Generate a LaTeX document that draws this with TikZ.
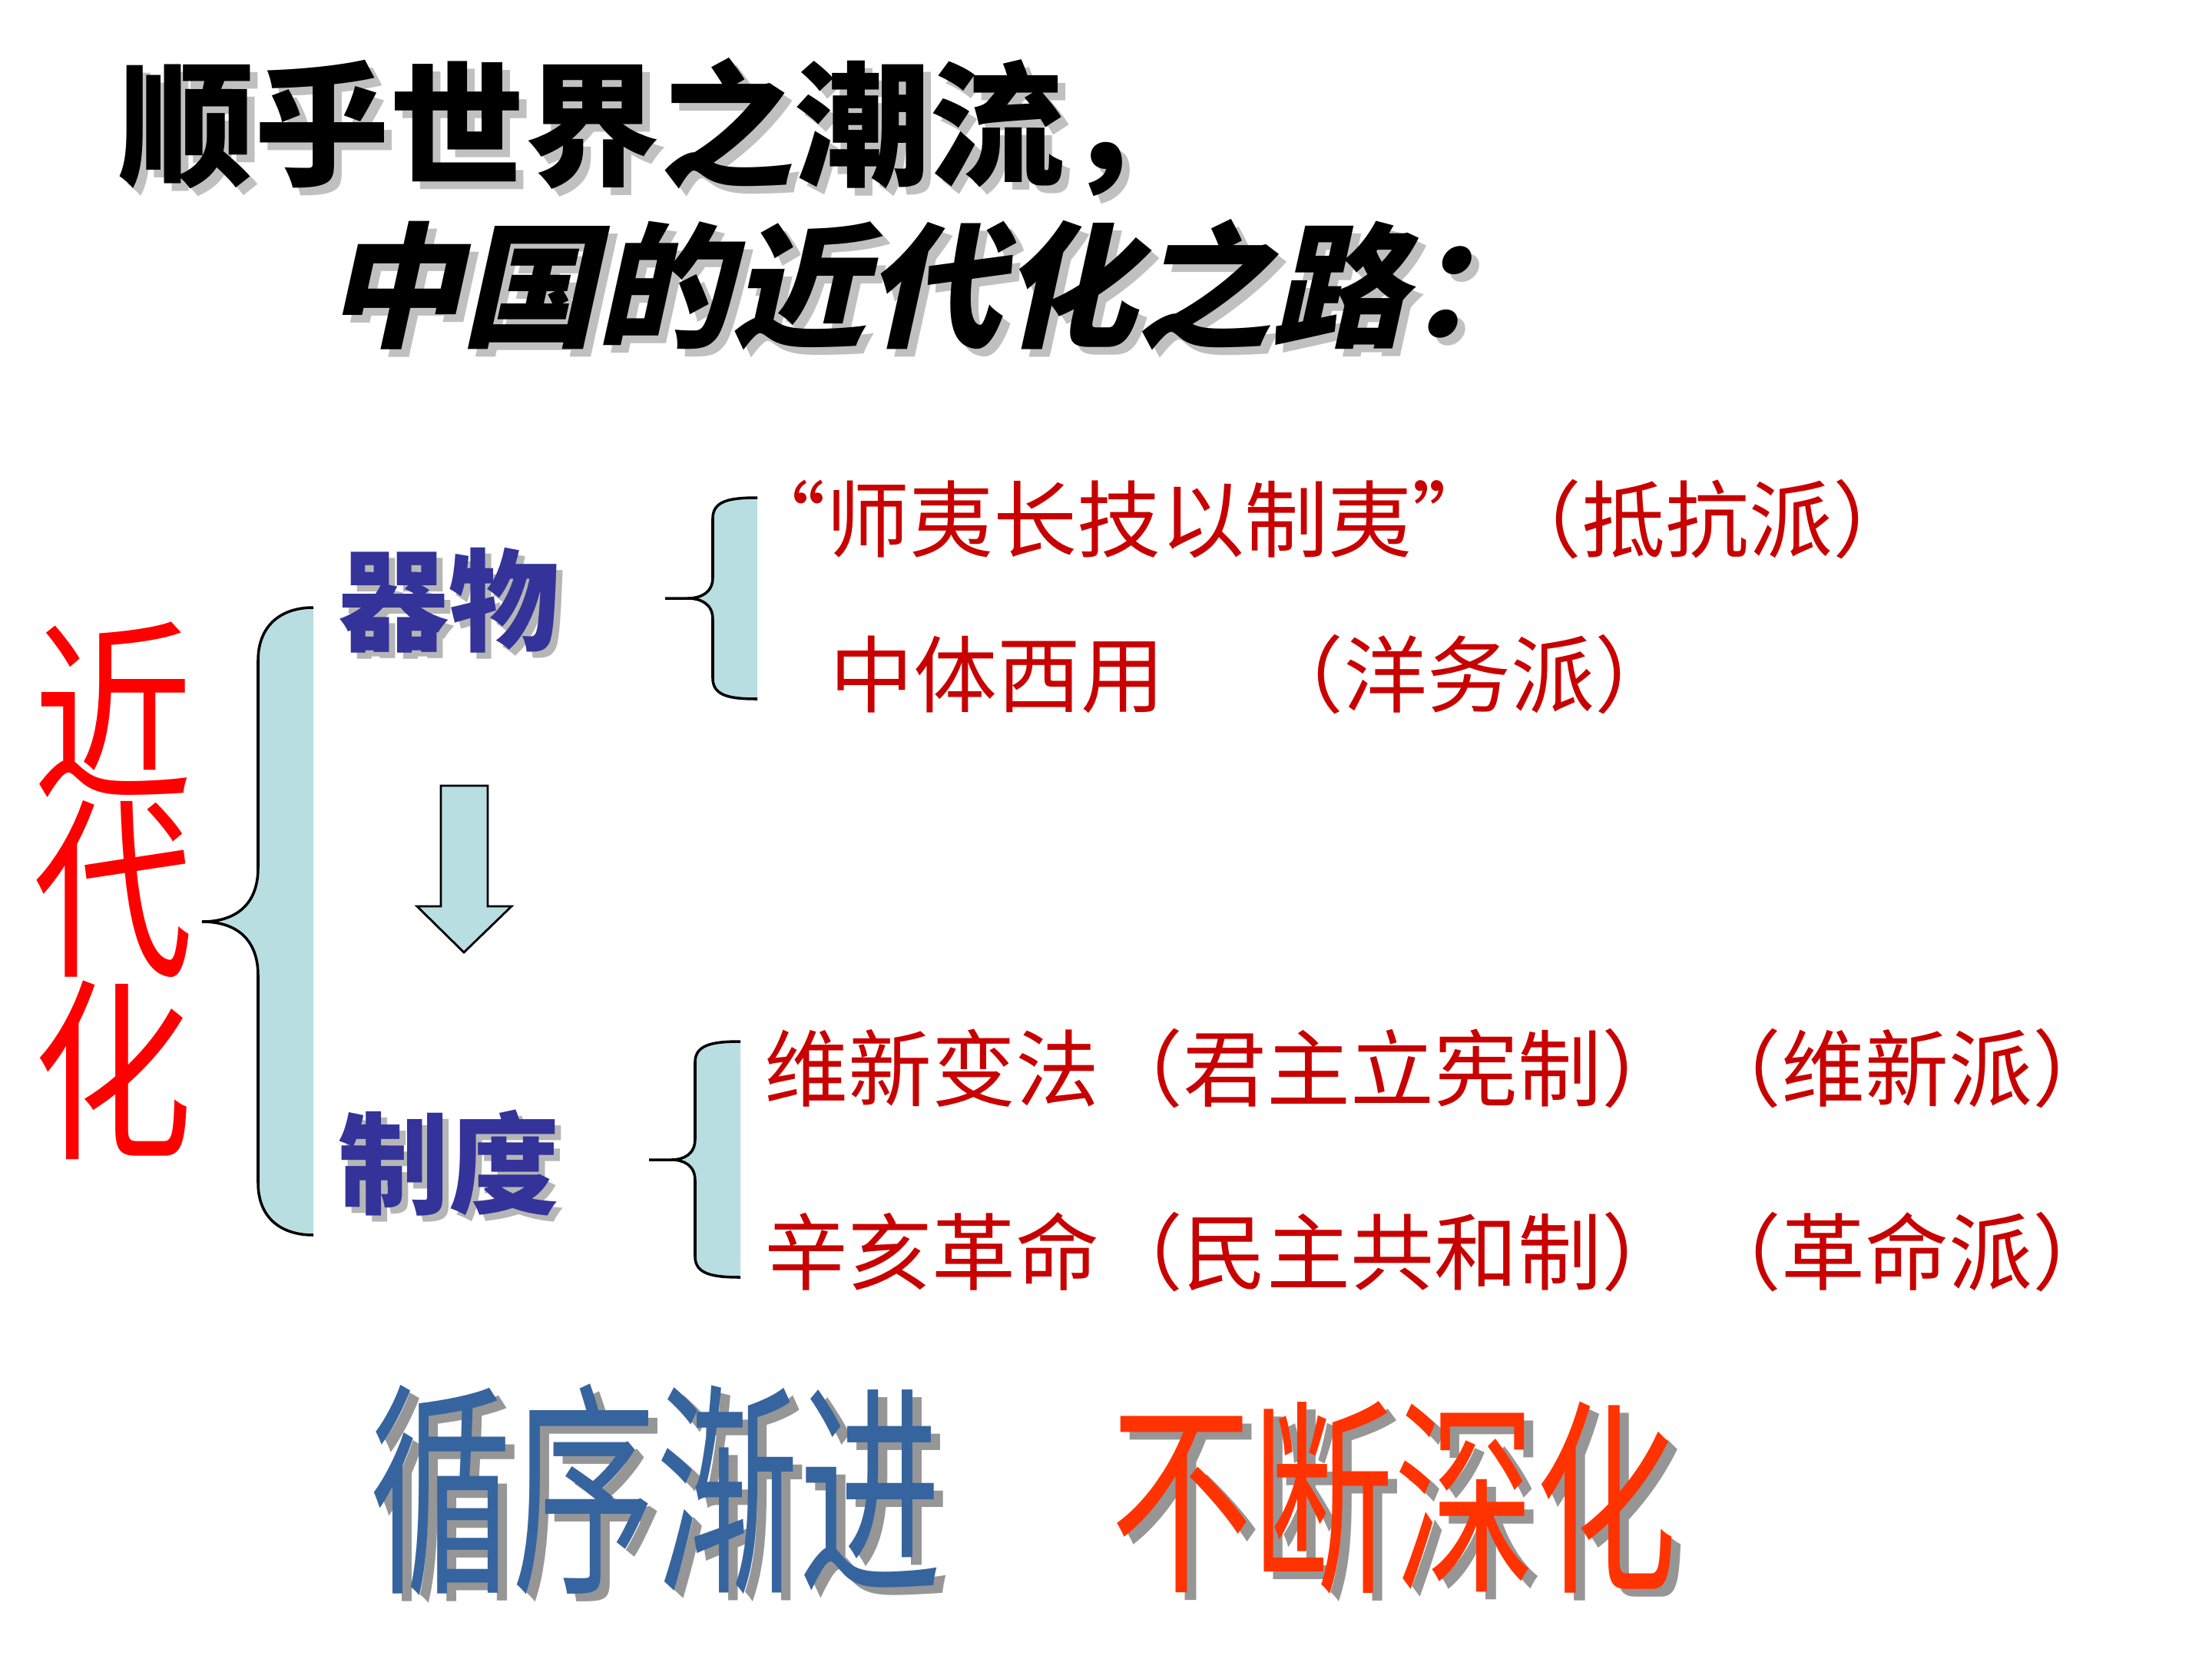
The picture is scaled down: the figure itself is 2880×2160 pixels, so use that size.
\documentclass[tikz,border=0pt]{standalone}
\usepackage{fontspec}
\newfontfamily\cjk{Noto Sans CJK SC}
\newfontfamily\cjksl[FakeSlant=0.22]{Noto Sans CJK SC}
\newfontfamily\cjktall[FakeStretch=0.82]{Noto Sans CJK SC}
\newfontfamily\cjkwa[FakeStretch=0.63]{Noto Sans CJK SC}
\newfontfamily\cjkwb[FakeStretch=0.68]{Noto Sans CJK SC}
\definecolor{lb}{RGB}{185,222,226}
\definecolor{dred}{RGB}{200,0,0}
\definecolor{indigo}{RGB}{51,51,153}
\definecolor{wblue}{RGB}{54,100,158}
\definecolor{wred}{RGB}{255,51,0}
\definecolor{shd}{RGB}{150,150,150}
\begin{document}
\begin{tikzpicture}[x=0.01cm,y=-0.01cm,
  base/.style={anchor=base west,inner sep=0pt,outer sep=0pt},
  ttl/.style={base,font=\cjk\bfseries\fontsize{50}{50}\selectfont},
  ttlsl/.style={base,font=\cjksl\bfseries\fontsize{50}{50}\selectfont},
  cat/.style={base,font=\cjk\bfseries\fontsize{41}{41}\selectfont},
  item/.style={base,font=\cjk\fontsize{31}{31}\selectfont,text=dred},
  bracefill/.style={fill=lb},
  braceline/.style={draw=black,line width=1pt},
  arrowbox/.style={fill=lb,draw=black,line width=0.8pt,line join=miter}
]
\useasboundingbox (0,0) rectangle (2880,2160);
\fill[white] (0,0) rectangle (2880,2160);

% ---- title ----
\node[ttl,text=shd!60] (t1s) at (166,238) {顺乎世界之潮流，};
\node[ttl,text=black] (t1) at (156,228) {顺乎世界之潮流，};
\node[ttlsl,text=shd!60] (t2s) at (435,448) {中国的近代化之路：};
\node[ttlsl,text=black] (t2) at (425,438) {中国的近代化之路：};

% ---- left label ----
\node[inner sep=0pt,align=center,text=red,
      font=\cjktall\fontsize{72}{61.5}\selectfont] (jdh) at (147,1160) {近\\代\\化};

% ---- big brace ----
\coordinate (bigtip) at (263,1200);
\fill[bracefill] (408,791) .. controls (365,791) and (336,815) .. (336,860)
  -- (336,1130) .. controls (336,1175) and (310,1200) .. (bigtip)
  .. controls (310,1200) and (336,1225) .. (336,1270)
  -- (336,1540) .. controls (336,1585) and (365,1608) .. (408,1608) -- cycle;
\draw[braceline] (408,791) .. controls (365,791) and (336,815) .. (336,860)
  -- (336,1130) .. controls (336,1175) and (310,1200) .. (bigtip)
  .. controls (310,1200) and (336,1225) .. (336,1270)
  -- (336,1540) .. controls (336,1585) and (365,1608) .. (408,1608);

% ---- categories ----
\node[cat,text=shd!70] (qws) at (448,844) {器物};
\node[cat,text=indigo] (qw) at (440,836) {器物};
\node[cat,text=shd!70] (zds) at (448,1577) {制度};
\node[cat,text=indigo] (zd) at (440,1569) {制度};

% ---- down arrow ----
\filldraw[arrowbox] (574,1023) -- (635,1023) -- (635,1180) -- (666,1180)
  -- (604,1240) -- (543,1180) -- (574,1180) -- cycle;

% ---- small brace 1 ----
\coordinate (b1l) at (866,779);
\fill[bracefill] (986,648) .. controls (950,648) and (928,652) .. (928,675)
  -- (928,752) .. controls (928,772) and (912,779) .. (895,779)
  .. controls (912,779) and (928,786) .. (928,806)
  -- (928,883) .. controls (928,906) and (950,910) .. (986,910) -- cycle;
\draw[braceline] (986,648) .. controls (950,648) and (928,652) .. (928,675)
  -- (928,752) .. controls (928,772) and (912,779) .. (895,779) -- (b1l);
\draw[braceline] (895,779) .. controls (912,779) and (928,786) .. (928,806)
  -- (928,883) .. controls (928,906) and (950,910) .. (986,910);

% ---- small brace 2 ----
\coordinate (b2l) at (845,1510);
\fill[bracefill] (964,1356) .. controls (928,1356) and (905,1360) .. (905,1383)
  -- (905,1483) .. controls (905,1503) and (890,1510) .. (874,1510)
  .. controls (890,1510) and (905,1517) .. (905,1537)
  -- (905,1636) .. controls (905,1659) and (928,1663) .. (964,1663) -- cycle;
\draw[braceline] (964,1356) .. controls (928,1356) and (905,1360) .. (905,1383)
  -- (905,1483) .. controls (905,1503) and (890,1510) .. (874,1510) -- (b2l);
\draw[braceline] (874,1510) .. controls (890,1510) and (905,1517) .. (905,1537)
  -- (905,1636) .. controls (905,1659) and (928,1663) .. (964,1663);

% ---- items ----
\node[item] (a1) at (966,717) {“师夷长技以制夷”};
\node[item] (a2) at (1950,717) {（抵抗派）};
\node[item] (b1) at (1080,919) {中体西用};
\node[item] (b2) at (1640,919) {（洋务派）};
\node[item] (c1) at (995,1432) {维新变法（君主立宪制）};
\node[item] (c2) at (2210,1432) {（维新派）};
\node[item] (d1) at (995,1671) {辛亥革命（民主共和制）};
\node[item] (d2) at (2210,1671) {（革命派）};

% ---- bottom slogans ----
\node[inner sep=0pt,text=shd,font=\cjkwa\fontsize{84}{84}\selectfont] (s1s) at (866,1950) {循序渐进};
\node[inner sep=0pt,text=wblue,font=\cjkwa\fontsize{84}{84}\selectfont] (s1) at (854,1940) {循序渐进};
\node[inner sep=0pt,text=shd,font=\cjkwb\fontsize{77}{77}\selectfont] (s2s) at (1827,1960) {不断深化};
\node[inner sep=0pt,text=wred,font=\cjkwb\fontsize{77}{77}\selectfont] (s2) at (1815,1950) {不断深化};
\end{tikzpicture}
\end{document}
